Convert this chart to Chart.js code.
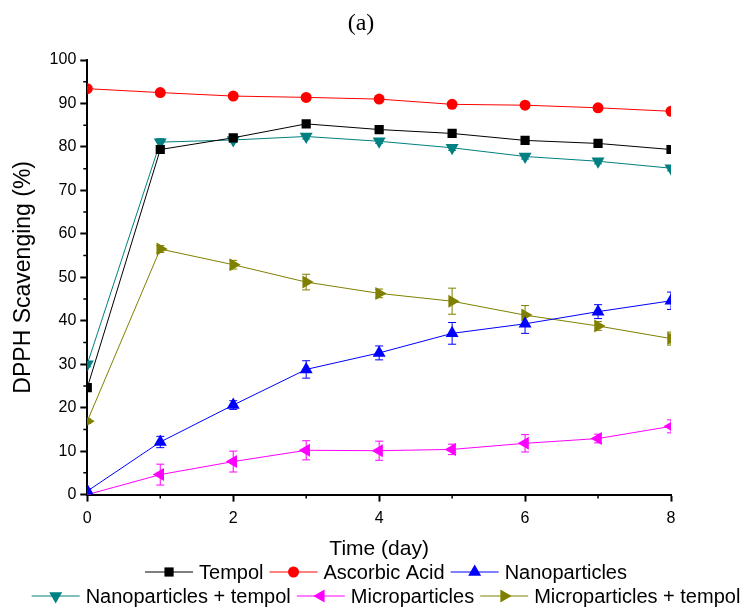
<!DOCTYPE html>
<html>
<head>
<meta charset="utf-8">
<script src="https://cdn.jsdelivr.net/npm/chart.js@4.4.1/dist/chart.umd.min.js"></script>
<style>
  html, body { margin: 0; padding: 0; background: #fff; }
  #wrap { width: 749px; height: 610px; position: relative; }
</style>
</head>
<body>
<div id="wrap"><canvas id="dpphChart"></canvas></div>
<script>
// ==============================
// DPPH scavenging vs time
// ==============================

const days = [0, 1, 2, 3, 4, 5, 6, 7, 8];

const tempol      = [24.6, 79.4, 82.1, 85.3, 84.0, 83.1, 81.5, 80.8, 79.4];
const ascorbic    = [93.4, 92.5, 91.7, 91.4, 91.0, 89.8, 89.6, 89.0, 88.2];
const nano        = [0.8, 12.1, 20.6, 28.8, 32.6, 37.1, 39.3, 42.1, 44.6];
const nanoTempol  = [30.0, 81.1, 81.6, 82.4, 81.3, 79.8, 77.8, 76.7, 75.1];
const micro       = [0.0, 4.6, 7.6, 10.2, 10.1, 10.4, 11.8, 12.9, 15.7];
const microTempol = [16.9, 56.5, 52.9, 48.9, 46.3, 44.5, 41.3, 38.8, 35.9];

// error bars (+/-)
const tempolErr      = [0.6, 0.8, 0.6, 0.6, 0.5, 0.6, 0.5, 0.5, 0.5];
const ascorbicErr    = [0.3, 0.3, 0.3, 0.3, 0.3, 0.3, 0.3, 0.3, 0.3];
const nanoErr        = [0.5, 1.3, 1.0, 2.0, 1.6, 2.5, 2.2, 1.6, 2.0];
const nanoTempolErr  = [0.6, 0.8, 0.6, 0.6, 0.5, 0.6, 0.6, 0.6, 0.6];
const microErr       = [0.3, 2.4, 2.4, 2.2, 2.2, 1.2, 2.0, 1.0, 1.5];
const microTempolErr = [0.5, 0.8, 1.0, 1.8, 1.0, 3.0, 2.2, 1.0, 1.5];

const seriesNames = ["Tempol", "Ascorbic Acid", "Nanoparticles",
                     "Nanoparticles + tempol", "Microparticles", "Microparticles + tempol"];

const FONT = '"Liberation Sans", Arial, sans-serif';

function makeSet(label, values, errors, color, style, rotation, radius) {
    return {
        label: label,
        data: days.map((d, i) => ({ x: d, y: values[i] })),
        errors: errors,
        borderColor: color,
        backgroundColor: color,
        borderWidth: 1,
        pointStyle: style,
        rotation: rotation,
        pointRadius: radius,
        pointHoverRadius: radius,
        pointBorderWidth: 0,
        clip: 0,
        tension: 0
    };
}

// panel label "(a)"
const panelTitle = {
    id: 'panelTitle',
    afterDraw(chart) {
        const ctx = chart.ctx;
        ctx.save();
        ctx.font = '24px "Liberation Serif", "Times New Roman", serif';
        ctx.fillStyle = '#000';
        ctx.textAlign = 'center';
        ctx.textBaseline = 'middle';
        ctx.fillText('(a)', 361, 24);
        ctx.restore();
    }
};

// error bars drawn under the markers
const errorBars = {
    id: 'errorBars',
    beforeDatasetsDraw(chart) {
        const { ctx, chartArea, scales: { x, y } } = chart;
        ctx.save();
        ctx.beginPath();
        ctx.rect(chartArea.left, chartArea.top, chartArea.right - chartArea.left, chartArea.bottom - chartArea.top);
        ctx.clip();
        chart.data.datasets.forEach(ds => {
            ctx.strokeStyle = ds.borderColor;
            ctx.lineWidth = 1;
            ds.data.forEach((p, j) => {
                const e = ds.errors[j];
                if (!e) return;
                const px = x.getPixelForValue(p.x);
                const top = y.getPixelForValue(p.y + e);
                const bot = y.getPixelForValue(p.y - e);
                ctx.beginPath();
                ctx.moveTo(px, top); ctx.lineTo(px, bot);
                ctx.moveTo(px - 4, top); ctx.lineTo(px + 4, top);
                ctx.moveTo(px - 4, bot); ctx.lineTo(px + 4, bot);
                ctx.stroke();
            });
        });
        ctx.restore();
    }
};

// minor ticks (odd days, every 5 %)
const minorTicks = {
    id: 'minorTicks',
    afterDraw(chart) {
        const { ctx, chartArea, scales: { x, y } } = chart;
        ctx.save();
        ctx.strokeStyle = '#000';
        ctx.lineWidth = 1.5;
        ctx.beginPath();
        [1, 3, 5, 7].forEach(d => {
            const px = x.getPixelForValue(d);
            ctx.moveTo(px, chartArea.bottom);
            ctx.lineTo(px, chartArea.bottom + 4);
        });
        for (let v = 5; v < 100; v += 10) {
            const py = y.getPixelForValue(v);
            ctx.moveTo(chartArea.left, py);
            ctx.lineTo(chartArea.left - 4, py);
        }
        ctx.stroke();
        ctx.restore();
    }
};

// two-row legend with line + marker samples
const lineLegend = {
    id: 'lineLegend',
    afterDraw(chart) {
        const ctx = chart.ctx;
        const rows = [[0, 1, 2], [3, 4, 5]];
        const rowY = [chart.height - 38, chart.height - 14];
        const centerX = 386;
        const segLen = 48;
        ctx.save();
        ctx.font = '20px ' + FONT;
        ctx.textBaseline = 'middle';
        rows.forEach((row, r) => {
            const sets = row.map(i => chart.data.datasets[i]);
            const widths = sets.map(ds => segLen + 6 + ctx.measureText(ds.label).width);
            const total = widths.reduce((a, b) => a + b, 0) + 6 * (sets.length - 1);
            let xPos = centerX - total / 2;
            const yPos = rowY[r];
            sets.forEach((ds, k) => {
                ctx.strokeStyle = ds.borderColor;
                ctx.lineWidth = 1;
                ctx.beginPath();
                ctx.moveTo(xPos, yPos);
                ctx.lineTo(xPos + segLen, yPos);
                ctx.stroke();
                ctx.fillStyle = ds.backgroundColor;
                Chart.helpers.drawPoint(ctx, {
                    pointStyle: ds.pointStyle,
                    rotation: ds.rotation,
                    radius: ds.pointRadius,
                    borderWidth: 0
                }, xPos + segLen / 2, yPos);
                ctx.fillStyle = '#000';
                ctx.fillText(ds.label, xPos + segLen + 6, yPos + 1);
                xPos += widths[k] + 6;
            });
        });
        ctx.restore();
    }
};

const datasets = [
    makeSet(seriesNames[0], tempol, tempolErr, '#000000', 'rect', 0, 6.5),
    makeSet(seriesNames[1], ascorbic, ascorbicErr, '#ff0000', 'circle', 0, 5.5),
    makeSet(seriesNames[2], nano, nanoErr, '#0000ff', 'triangle', 0, 7.5),
    makeSet(seriesNames[3], nanoTempol, nanoTempolErr, '#008080', 'triangle', 180, 7.5),
    makeSet(seriesNames[4], micro, microErr, '#ff00ff', 'triangle', 270, 7.5),
    makeSet(seriesNames[5], microTempol, microTempolErr, '#808000', 'triangle', 90, 7.5)
];

new Chart(document.getElementById('dpphChart'), {
    type: 'line',
    data: { datasets: datasets },
    plugins: [errorBars, minorTicks, lineLegend, panelTitle],
    options: {
        responsive: true,
        maintainAspectRatio: false,
        animation: false,
        layout: { padding: { left: 10, right: 78, top: 60, bottom: 48 } },
        plugins: {
            legend: { display: false },
            tooltip: { enabled: false },
            title: { display: false }
        },
        scales: {
            x: {
                type: 'linear',
                min: 0,
                max: 8,
                ticks: { stepSize: 2, color: '#000', font: { family: FONT, size: 16 }, padding: 7 },
                grid: { drawOnChartArea: false, drawTicks: true, tickLength: 7, tickColor: '#000', tickWidth: 2 },
                border: { display: true, color: '#000', width: 2 },
                title: { display: true, text: 'Time (day)', color: '#000', font: { family: FONT, size: 21 }, padding: { top: 2, bottom: 0 } }
            },
            y: {
                min: 0,
                max: 100,
                ticks: { stepSize: 10, color: '#000', font: { family: FONT, size: 16 }, padding: 4 },
                grid: { drawOnChartArea: false, drawTicks: true, tickLength: 7, tickColor: '#000', tickWidth: 2 },
                border: { display: true, color: '#000', width: 2 },
                title: { display: true, text: 'DPPH Scavenging (%)', color: '#000', font: { family: FONT, size: 23 }, padding: { top: 0, bottom: 8 } }
            }
        }
    }
});
</script>
</body>
</html>
